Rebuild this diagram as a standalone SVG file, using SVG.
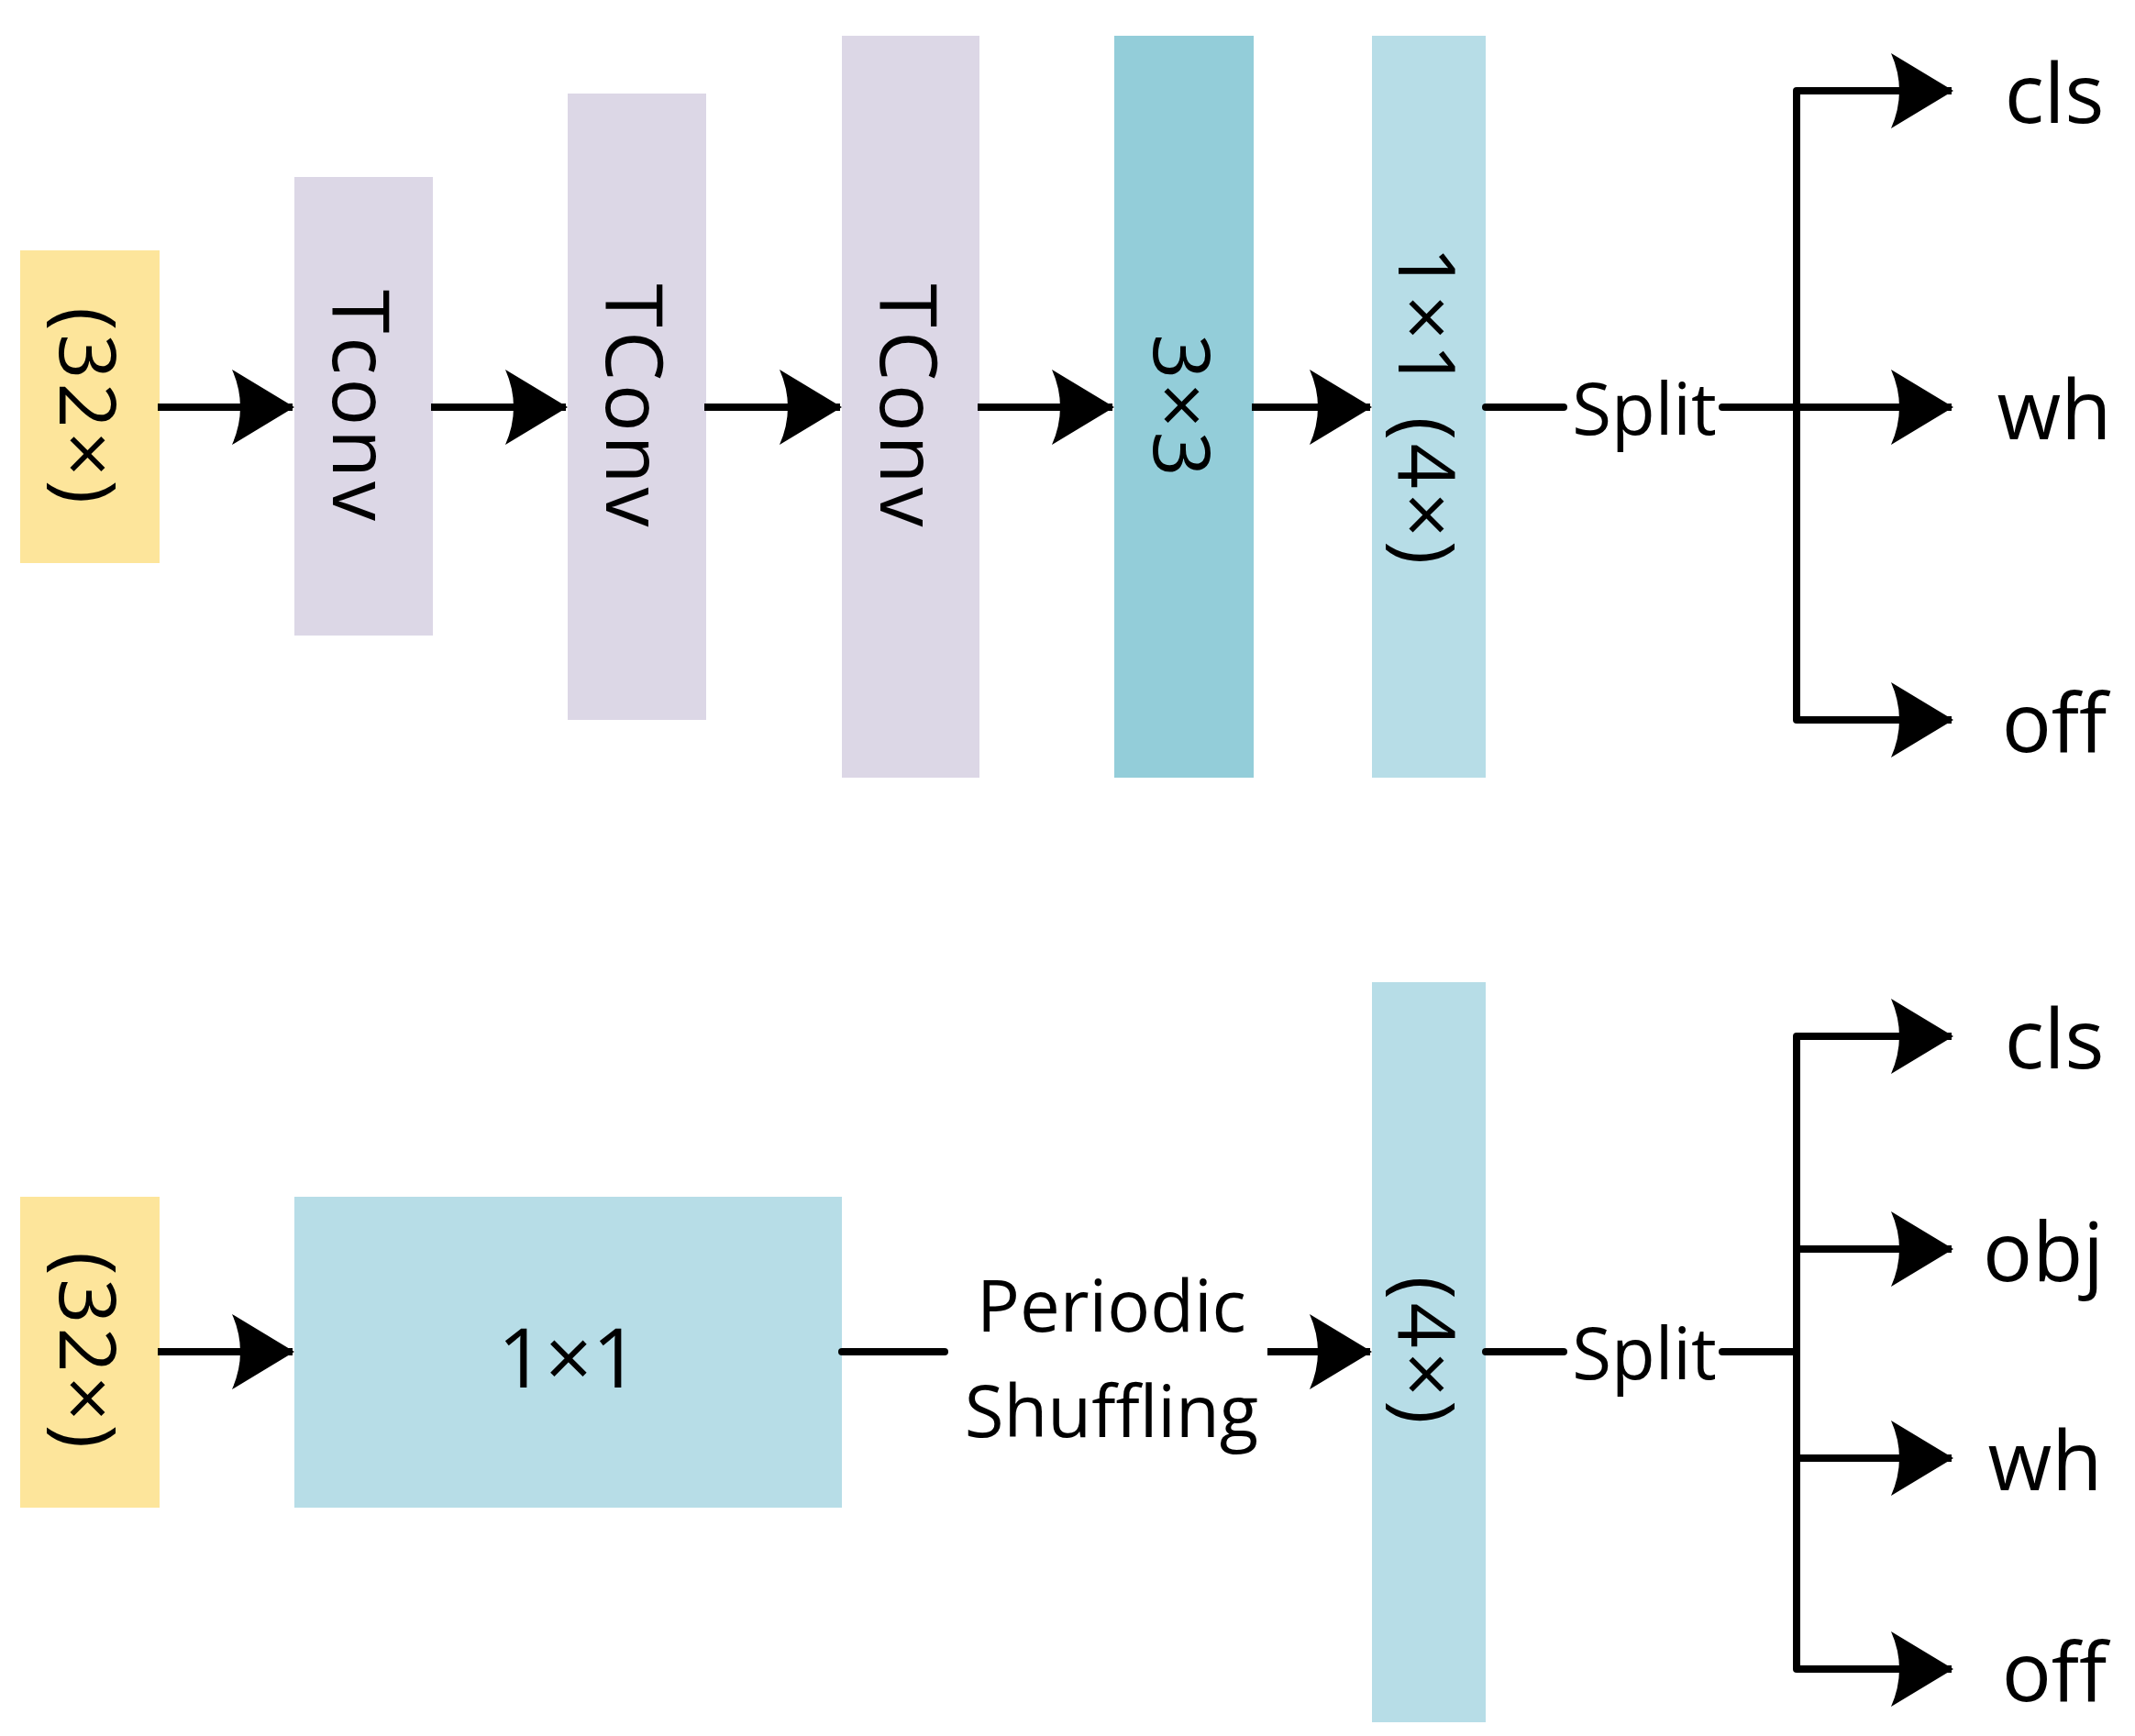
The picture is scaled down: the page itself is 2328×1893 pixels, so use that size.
<svg xmlns="http://www.w3.org/2000/svg" width="2328" height="1893" viewBox="0 0 2328 1893">
<style>
text{font-family:"Open Sans","Liberation Sans",sans-serif;fill:#000}
.c{text-anchor:middle;dominant-baseline:central}
.v{font-size:86px;letter-spacing:4px}
.l{font-size:90px}
.s{font-size:78px}
line{stroke:#000;stroke-width:8;fill:none;stroke-linecap:round}
line.ar{stroke-linecap:butt}
</style>
<defs>
<marker id="a" markerUnits="userSpaceOnUse" markerWidth="1" markerHeight="1" refX="0" refY="0" orient="auto" overflow="visible">
<path d="M-66,-41 L2,0 L-66,41 Q-48,0 -66,-41 Z" fill="#000"/>
</marker>
</defs>
<g id="n1"><rect x="22" y="273" width="152" height="341" fill="#fde59b"/><text class="c v" transform="translate(98,444) rotate(90)">(32×)</text></g>
<g id="n2"><rect x="321" y="193" width="151" height="500" fill="#dcd7e6"/><text class="c v" transform="translate(396,444) rotate(90)">Tconv</text></g>
<g id="n3"><rect x="619" y="102" width="151" height="683" fill="#dcd7e6"/><text class="c v" transform="translate(694,444) rotate(90)">TConv</text></g>
<g id="n4"><rect x="918" y="39" width="150" height="809" fill="#dcd7e6"/><text class="c v" transform="translate(993,444) rotate(90)">TConv</text></g>
<g id="n5"><rect x="1215" y="39" width="152" height="809" fill="#93cdd9"/><text class="c v" transform="translate(1291,444) rotate(90)">3×3</text></g>
<g id="n6"><rect x="1496" y="39" width="124" height="809" fill="#b7dde7"/><text class="c v" transform="translate(1558,444) rotate(90)">1×1 (4×)</text></g>
<g id="t1"><text class="c s" x="1793" y="444">Split</text></g>
<g id="o1"><text class="c l" x="2240" y="99">cls</text><text class="c l" x="2240" y="444">wh</text><text class="c l" x="2240" y="785">off</text></g>

<g id="m1"><rect x="22" y="1305" width="152" height="339" fill="#fde59b"/><text class="c v" transform="translate(98,1474) rotate(90)">(32×)</text></g>
<g id="m2"><rect x="321" y="1305" width="597" height="339" fill="#b7dde7"/><text class="c l" x="620" y="1478">1×1</text></g>
<g id="m3"><text class="c s" x="1212" y="1422">Periodic</text><text class="c s" x="1212" y="1537">Shuffling</text></g>
<g id="m4"><rect x="1496" y="1071" width="124" height="807" fill="#b7dde7"/><text class="c v" transform="translate(1558,1474) rotate(90)">(4×)</text></g>
<g id="t2"><text class="c s" x="1793" y="1474">Split</text></g>
<g id="o2"><text class="c l" x="2240" y="1130">cls</text><text class="c l" x="2228" y="1362">obj</text><text class="c l" x="2230" y="1590">wh</text><text class="c l" x="2240" y="1820">off</text></g>

<g id="connectors">
<line class="ar" x1="172" y1="444" x2="319" y2="444" marker-end="url(#a)"/>
<line class="ar" x1="470" y1="444" x2="617" y2="444" marker-end="url(#a)"/>
<line class="ar" x1="768" y1="444" x2="916" y2="444" marker-end="url(#a)"/>
<line class="ar" x1="1066" y1="444" x2="1213" y2="444" marker-end="url(#a)"/>
<line class="ar" x1="1365" y1="444" x2="1494" y2="444" marker-end="url(#a)"/>
<line x1="1620" y1="444" x2="1705" y2="444"/>
<line x1="1878" y1="444" x2="1959" y2="444"/>
<line x1="1959" y1="99" x2="1959" y2="785"/>
<line class="ar" x1="1959" y1="99" x2="2128" y2="99" marker-end="url(#a)"/>
<line class="ar" x1="1959" y1="444" x2="2128" y2="444" marker-end="url(#a)"/>
<line class="ar" x1="1959" y1="785" x2="2128" y2="785" marker-end="url(#a)"/>

<line class="ar" x1="172" y1="1474" x2="319" y2="1474" marker-end="url(#a)"/>
<line x1="918" y1="1474" x2="1030" y2="1474"/>
<line class="ar" x1="1382" y1="1474" x2="1494" y2="1474" marker-end="url(#a)"/>
<line x1="1620" y1="1474" x2="1705" y2="1474"/>
<line x1="1878" y1="1474" x2="1959" y2="1474"/>
<line x1="1959" y1="1130" x2="1959" y2="1820"/>
<line class="ar" x1="1959" y1="1130" x2="2128" y2="1130" marker-end="url(#a)"/>
<line class="ar" x1="1959" y1="1362" x2="2128" y2="1362" marker-end="url(#a)"/>
<line class="ar" x1="1959" y1="1590" x2="2128" y2="1590" marker-end="url(#a)"/>
<line class="ar" x1="1959" y1="1820" x2="2128" y2="1820" marker-end="url(#a)"/>
</g>
</svg>
